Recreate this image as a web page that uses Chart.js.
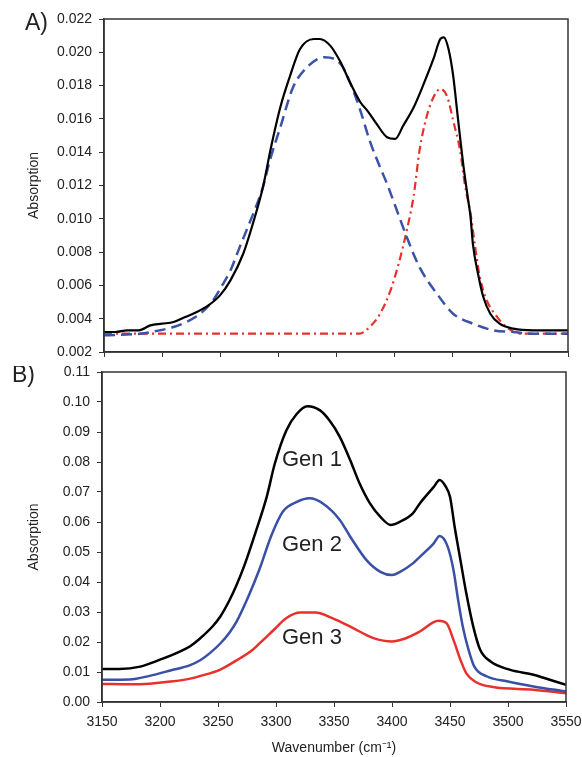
<!DOCTYPE html>
<html>
<head>
<meta charset="utf-8">
<script src="https://cdn.jsdelivr.net/npm/chart.js@4.4.0/dist/chart.umd.min.js"></script>
<style>
  html, body { margin: 0; padding: 0; background: #fff; overflow: hidden; }
  #wrapA { position: absolute; left: 0; top: 0; width: 582px; height: 366px; }
  #wrapB { position: absolute; left: 0; top: 366px; width: 582px; height: 391px; }
</style>
</head>
<body>
<div id="wrapA"><canvas id="chartA" width="582" height="366"></canvas></div>
<div id="wrapB"><canvas id="chartB" width="582" height="391"></canvas></div>
<script>
// Panel A - measured spectrum and two fitted bands
const aMeasuredWn = [3150, 3160, 3170, 3180, 3190, 3200, 3210, 3220, 3230, 3240, 3250, 3259, 3270, 3280, 3287, 3294, 3302, 3310, 3319, 3331, 3336, 3345, 3354, 3362, 3371, 3377, 3385, 3394, 3401, 3408, 3417, 3425, 3434, 3440, 3443, 3447, 3451, 3455, 3460, 3464, 3466, 3468, 3473, 3477, 3483, 3491, 3503, 3520, 3550];
const aMeasured = [0.0032, 0.0032, 0.0033, 0.0033, 0.0036, 0.0037, 0.0038, 0.0041, 0.0044, 0.0048, 0.0054, 0.0063, 0.0079, 0.0101, 0.0119, 0.0143, 0.0167, 0.0185, 0.0202, 0.0208, 0.0208, 0.0204, 0.0194, 0.0182, 0.0170, 0.0165, 0.0157, 0.0149, 0.0148, 0.0156, 0.0167, 0.0180, 0.0196, 0.0208, 0.0209, 0.0202, 0.0186, 0.0161, 0.0131, 0.0111, 0.0101, 0.0085, 0.0065, 0.0053, 0.0043, 0.0037, 0.0034, 0.0033, 0.0033];

const aFit1Wn = [3150, 3181, 3198, 3210, 3221, 3233, 3244, 3251, 3259, 3267, 3274, 3282, 3287, 3293, 3302, 3313, 3325, 3340, 3354, 3362, 3371, 3379, 3388, 3394, 3402, 3411, 3422, 3437, 3451, 3468, 3486, 3503, 3520, 3550];
const aFit1 = [0.0030, 0.0031, 0.0033, 0.0035, 0.0038, 0.0043, 0.0051, 0.0059, 0.0069, 0.0083, 0.0095, 0.0109, 0.0119, 0.0135, 0.0155, 0.0179, 0.0191, 0.0197, 0.0193, 0.0182, 0.0165, 0.0147, 0.0131, 0.0121, 0.0106, 0.0089, 0.0071, 0.0055, 0.0043, 0.0037, 0.0033, 0.0032, 0.0031, 0.0031];

const aFit2Wn = [3150, 3370, 3379, 3388, 3397, 3404, 3411, 3417, 3422, 3428, 3434, 3440, 3446, 3451, 3457, 3461, 3466, 3470, 3474, 3480, 3489, 3497, 3509, 3550];
const aFit2 = [0.0031, 0.0031, 0.0035, 0.0043, 0.0057, 0.0073, 0.0093, 0.0114, 0.0141, 0.0161, 0.0173, 0.0178, 0.0173, 0.0159, 0.0141, 0.0121, 0.0103, 0.0083, 0.0065, 0.0051, 0.0041, 0.0035, 0.0031, 0.0031];

// Panel B - three generations
const bGen1Wn = [3150, 3165, 3183, 3200, 3217, 3226, 3234, 3246, 3252, 3260, 3266, 3273, 3283, 3292, 3299, 3309, 3318, 3327, 3338, 3346, 3355, 3364, 3372, 3381, 3390, 3399, 3407, 3418, 3424, 3436, 3441, 3446, 3450, 3454, 3459, 3464, 3470, 3476, 3485, 3502, 3522, 3536, 3550];
const bGen1 = [0.0110, 0.0110, 0.0118, 0.0141, 0.0168, 0.0186, 0.0210, 0.0255, 0.0285, 0.0340, 0.0390, 0.0458, 0.0573, 0.0684, 0.0795, 0.0906, 0.0961, 0.0986, 0.0972, 0.0939, 0.0884, 0.0806, 0.0729, 0.0662, 0.0617, 0.0590, 0.0601, 0.0629, 0.0662, 0.0717, 0.0740, 0.0720, 0.0684, 0.0584, 0.0473, 0.0363, 0.0252, 0.0174, 0.0135, 0.0107, 0.0091, 0.0074, 0.0057];

const bGen2Wn = [3150, 3174, 3191, 3209, 3226, 3235, 3243, 3252, 3260, 3266, 3276, 3286, 3296, 3306, 3318, 3329, 3341, 3355, 3364, 3378, 3390, 3400, 3407, 3418, 3424, 3436, 3441, 3448, 3453, 3457, 3461, 3466, 3471, 3482, 3499, 3522, 3550];
const bGen2 = [0.0074, 0.0075, 0.0087, 0.0105, 0.0123, 0.0140, 0.0163, 0.0195, 0.0232, 0.0268, 0.0350, 0.0445, 0.0555, 0.0635, 0.0667, 0.0679, 0.0660, 0.0607, 0.0551, 0.0473, 0.0434, 0.0423, 0.0434, 0.0462, 0.0484, 0.0529, 0.0553, 0.0518, 0.0440, 0.0340, 0.0252, 0.0174, 0.0118, 0.0085, 0.0069, 0.0052, 0.0035];

const bGen3Wn = [3150, 3174, 3191, 3209, 3226, 3235, 3252, 3269, 3278, 3286, 3298, 3309, 3321, 3334, 3349, 3361, 3372, 3384, 3400, 3410, 3424, 3440, 3447, 3453, 3459, 3464, 3473, 3487, 3522, 3550];
const bGen3 = [0.0060, 0.0059, 0.0061, 0.0068, 0.0078, 0.0087, 0.0108, 0.0146, 0.0168, 0.0196, 0.0240, 0.0280, 0.0298, 0.0298, 0.0279, 0.0257, 0.0235, 0.0213, 0.0202, 0.0210, 0.0235, 0.0271, 0.0263, 0.0207, 0.0141, 0.0096, 0.0065, 0.0050, 0.0041, 0.0029];

// text labels on panel B, placed in data units
const genLabels = ["Gen 1", "Gen 2", "Gen 3"];
const genLabelWn = [3331, 3331, 3331];
const genLabelY = [0.0806, 0.0523, 0.0214];

const FONT = "'Liberation Sans', Arial, sans-serif";
const AXIS_COLOR = "#333";

function toXY(xs, ys) {
  return xs.map((x, i) => ({ x: x, y: ys[i] }));
}

// box around the plot area + panel letter
const framePlugin = {
  id: "frame",
  afterDraw(chart, args, opts) {
    const { ctx, chartArea } = chart;
    ctx.save();
    ctx.strokeStyle = AXIS_COLOR;
    ctx.lineWidth = 1.5;
    ctx.strokeRect(chartArea.left, chartArea.top, chartArea.right - chartArea.left, chartArea.bottom - chartArea.top);
    if (opts.letter) {
      ctx.fillStyle = "#222";
      ctx.font = "23px " + FONT;
      ctx.textAlign = "left";
      ctx.textBaseline = "middle";
      ctx.fillText(opts.letter, opts.letterX, chartArea.top + opts.letterDy);
    }
    ctx.restore();
  },
};

const genLabelPlugin = {
  id: "genLabels",
  afterDatasetsDraw(chart) {
    const { ctx, scales } = chart;
    ctx.save();
    ctx.fillStyle = "#222";
    ctx.font = "22px " + FONT;
    ctx.textAlign = "center";
    ctx.textBaseline = "middle";
    genLabels.forEach((t, i) => {
      ctx.fillText(t, scales.x.getPixelForValue(genLabelWn[i]), scales.y.getPixelForValue(genLabelY[i]));
    });
    ctx.restore();
  },
};

function xScale(showLabels, height) {
  return {
    type: "linear",
    min: 3150,
    max: 3550,
    ticks: {
      stepSize: 50,
      color: "#222",
      font: { family: FONT, size: 14 },
      padding: 7,
      maxRotation: 0,
      callback: (v) => (showLabels ? String(v) : ""),
    },
    grid: { drawOnChartArea: false, drawTicks: true, tickLength: 5, color: AXIS_COLOR },
    border: { display: true, color: AXIS_COLOR, width: 1.5 },
    title: {
      display: showLabels,
      text: "Wavenumber (cm\u207B\u00B9)",
      color: "#222",
      font: { family: FONT, size: 14 },
      padding: { top: 0, bottom: 0 },
    },
    afterFit(scale) {
      scale.height = height;
      scale.paddingLeft = 0;
      scale.paddingRight = 0;
    },
  };
}

function yScale(min, max, step, digits, width) {
  return {
    min: min,
    max: max,
    ticks: {
      stepSize: step,
      color: "#222",
      font: { family: FONT, size: 14 },
      padding: 7,
      callback: (v) => v.toFixed(digits),
    },
    grid: { drawOnChartArea: false, drawTicks: true, tickLength: 5, color: AXIS_COLOR },
    border: { display: true, color: AXIS_COLOR, width: 1.5 },
    title: {
      display: true,
      text: "Absorption",
      color: "#222",
      font: { family: FONT, size: 14 },
    },
    afterFit(scale) {
      scale.width = width;
      scale.paddingTop = 0;
      scale.paddingBottom = 0;
    },
  };
}

const commonOpts = {
  responsive: false,
  animation: false,
  elements: { point: { radius: 0 }, line: { cubicInterpolationMode: "monotone" } },
};

new Chart(document.getElementById("chartA").getContext("2d"), {
  type: "line",
  data: {
    datasets: [
      { label: "Measured", data: toXY(aMeasuredWn, aMeasured), borderColor: "#000", borderWidth: 2.2 },
      { label: "Band 1", data: toXY(aFit1Wn, aFit1), borderColor: "#3a52a8", borderWidth: 2.5, borderDash: [11, 6] },
      { label: "Band 2", data: toXY(aFit2Wn, aFit2), borderColor: "#e8302c", borderWidth: 2.2, borderDash: [8, 4, 2, 4] },
    ],
  },
  options: {
    ...commonOpts,
    layout: { padding: { left: 22, right: 14, top: 19, bottom: 0 } },
    scales: {
      x: xScale(false, 14),
      y: yScale(0.002, 0.022, 0.002, 3, 82),
    },
    plugins: {
      legend: { display: false },
      tooltip: { enabled: false },
      frame: { letter: "A)", letterX: 25, letterDy: 5 },
    },
  },
  plugins: [framePlugin],
});

new Chart(document.getElementById("chartB").getContext("2d"), {
  type: "line",
  data: {
    datasets: [
      { label: "Gen 1", data: toXY(bGen1Wn, bGen1), borderColor: "#000", borderWidth: 2.5 },
      { label: "Gen 2", data: toXY(bGen2Wn, bGen2), borderColor: "#3a4fa6", borderWidth: 2.5 },
      { label: "Gen 3", data: toXY(bGen3Wn, bGen3), borderColor: "#e8302c", borderWidth: 2.5 },
    ],
  },
  options: {
    ...commonOpts,
    layout: { padding: { left: 22, right: 16, top: 6, bottom: 0 } },
    scales: {
      x: xScale(true, 55),
      y: yScale(0, 0.11, 0.01, 2, 80),
    },
    plugins: {
      legend: { display: false },
      tooltip: { enabled: false },
      frame: { letter: "B)", letterX: 12, letterDy: 4 },
    },
  },
  plugins: [framePlugin, genLabelPlugin],
});
</script>
</body>
</html>
